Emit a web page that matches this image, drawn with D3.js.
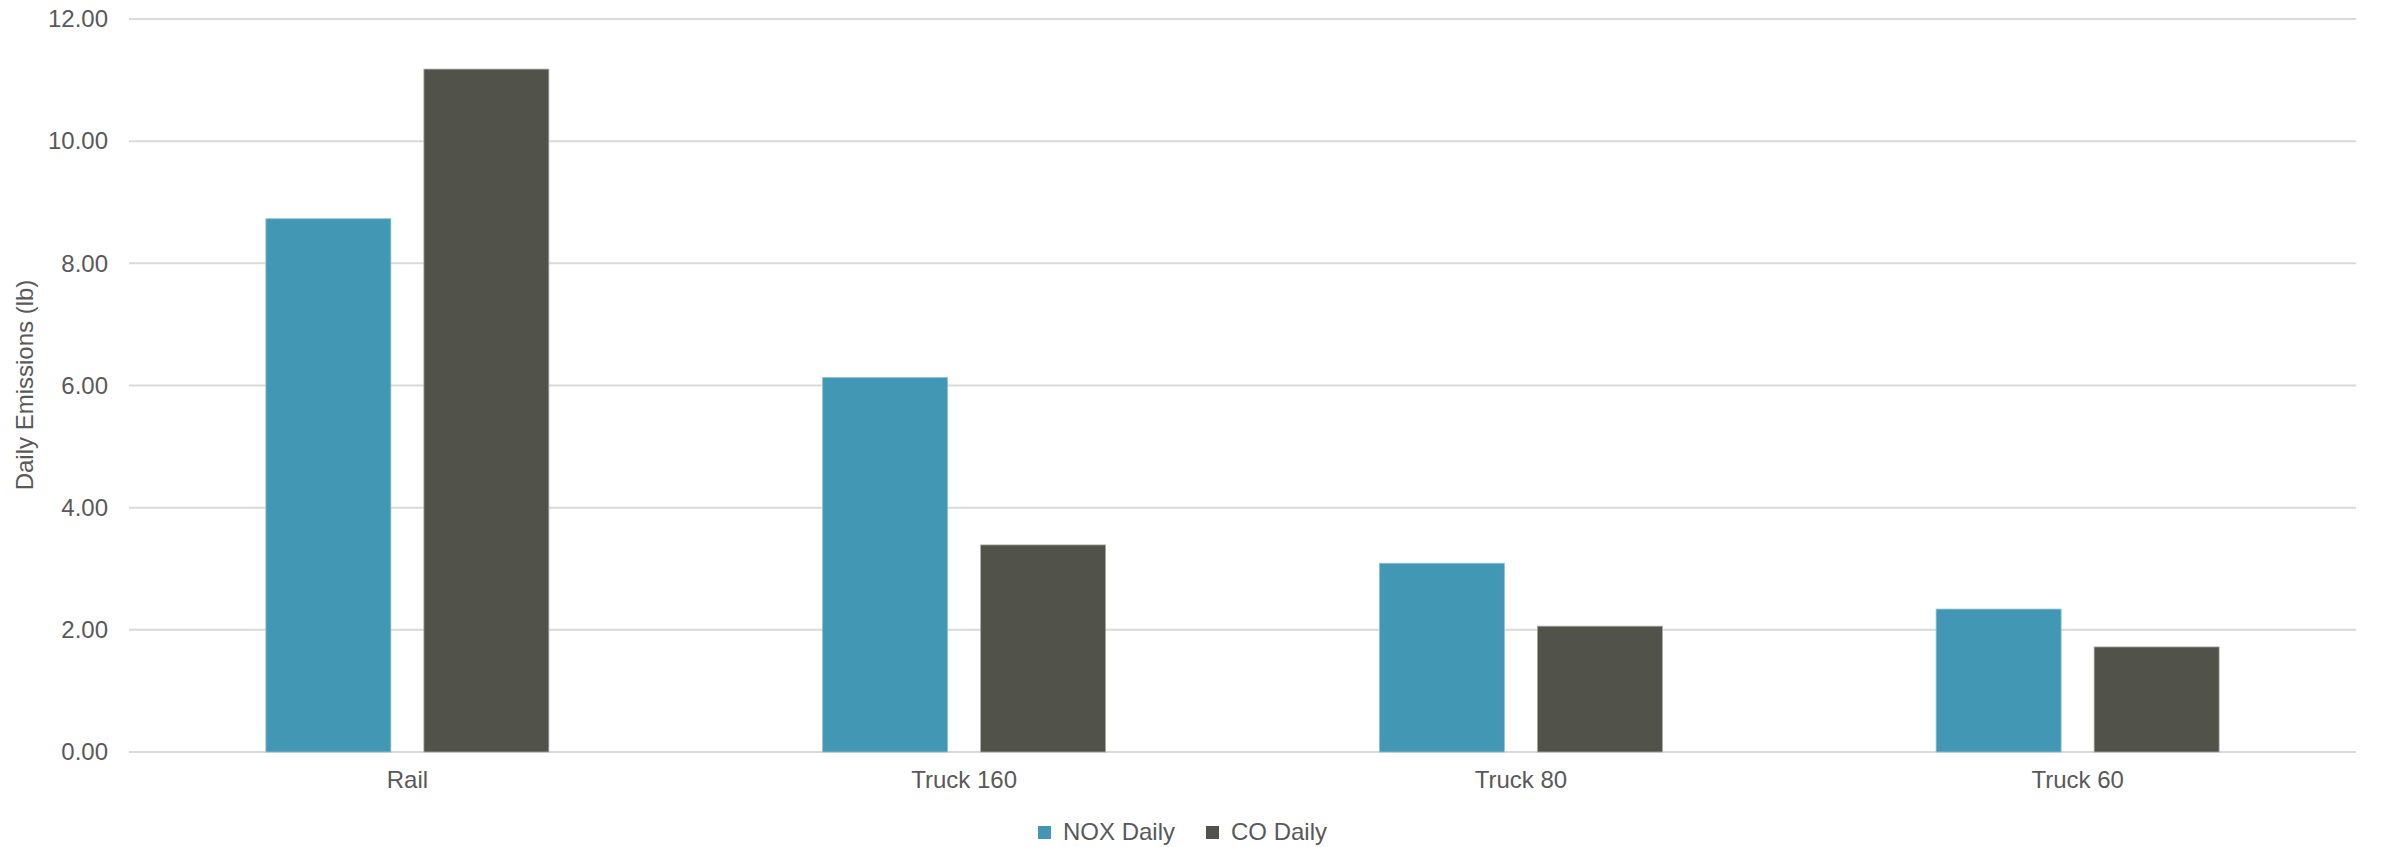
<!DOCTYPE html>
<html>
<head>
<meta charset="utf-8">
<script src="https://cdn.jsdelivr.net/npm/d3@7"></script>
<style>
  body { margin: 0; background: #fff; }
  text { font-family: "Liberation Sans", Arial, sans-serif; fill: #595959; }
</style>
</head>
<body>
<svg width="2382" height="847"></svg>
<script>
// chart data
const categories = ['Rail', 'Truck 160', 'Truck 80', 'Truck 60'];
const seriesNames = ['NOX Daily', 'CO Daily'];
const noxDaily = [8.73, 6.13, 3.09, 2.34];
const coDaily = [11.18, 3.39, 2.06, 1.72];
const yTicks = [0, 2, 4, 6, 8, 10, 12];

const colors = ['#4297b5', '#51534a'];
const margin = { top: 19, right: 26, bottom: 95, left: 129 };
const width = 2382 - margin.left - margin.right;
const height = 847 - margin.top - margin.bottom;

const svg = d3.select('svg')
  .append('g')
  .attr('transform', 'translate(' + margin.left + ',' + margin.top + ')');

const x = d3.scaleBand().domain(categories).range([0, width]);
const y = d3.scaleLinear().domain([0, 12]).range([height, 0]);

// bars are 125px with a 33px gap inside each category
const barW = x.bandwidth() * 0.2245;
const innerGap = x.bandwidth() * 0.0593;
const xs = d3.scaleBand().domain(seriesNames)
  .range([(x.bandwidth() - 2 * barW - innerGap) / 2, (x.bandwidth() + 2 * barW + innerGap) / 2])
  .paddingInner(innerGap / (barW + innerGap));

// gridlines
svg.append('g')
  .selectAll('line')
  .data(yTicks)
  .enter()
  .append('line')
  .attr('x1', 0)
  .attr('x2', width)
  .attr('y1', d => y(d))
  .attr('y2', d => y(d))
  .attr('stroke', '#d9d9d9')
  .attr('stroke-width', 2);

// y axis labels
svg.append('g')
  .attr('class', 'axis axis--y')
  .call(d3.axisLeft(y).tickValues(yTicks).tickFormat(d3.format('.2f')).tickSize(0).tickPadding(21))
  .call(g => g.select('.domain').remove())
  .selectAll('text')
  .style('font-size', '24px')
  .attr('fill', '#595959');

// x axis labels
svg.append('g')
  .attr('class', 'axis axis--x')
  .attr('transform', 'translate(0,' + height + ')')
  .call(d3.axisBottom(x).tickSize(0).tickPadding(19))
  .call(g => g.select('.domain').remove())
  .selectAll('text')
  .style('font-size', '24px')
  .attr('fill', '#595959');

const rows = categories.map((c, i) => ({ cat: c, values: [noxDaily[i], coDaily[i]] }));

const groups = svg.selectAll('.group')
  .data(rows)
  .enter()
  .append('g')
  .attr('class', 'group')
  .attr('transform', d => 'translate(' + x(d.cat) + ',0)');

groups.selectAll('rect')
  .data(d => d.values.map((v, j) => ({ name: seriesNames[j], value: v, j: j })))
  .enter()
  .append('rect')
  .attr('x', d => xs(d.name))
  .attr('width', xs.bandwidth())
  .attr('y', d => y(d.value))
  .attr('height', d => height - y(d.value))
  .attr('fill', d => colors[d.j])
  .attr('stroke', d => d.j === 0 ? '#8fc1d3' : '#a9aaa4')
  .attr('stroke-width', 0.8);

// y axis title
d3.select('svg').append('text')
  .attr('transform', 'translate(33,385) rotate(-90)')
  .attr('text-anchor', 'middle')
  .style('font-size', '24px')
  .text('Daily Emissions (lb)');

// legend
const legendX = [1038, 1206];
const legend = d3.select('svg').append('g').attr('class', 'legend');
seriesNames.forEach((name, i) => {
  legend.append('rect')
    .attr('x', legendX[i])
    .attr('y', 826)
    .attr('width', 13)
    .attr('height', 13)
    .attr('fill', colors[i]);
  legend.append('text')
    .attr('x', legendX[i] + 25)
    .attr('y', 840)
    .style('font-size', '24px')
    .text(name);
});
</script>
</body>
</html>
